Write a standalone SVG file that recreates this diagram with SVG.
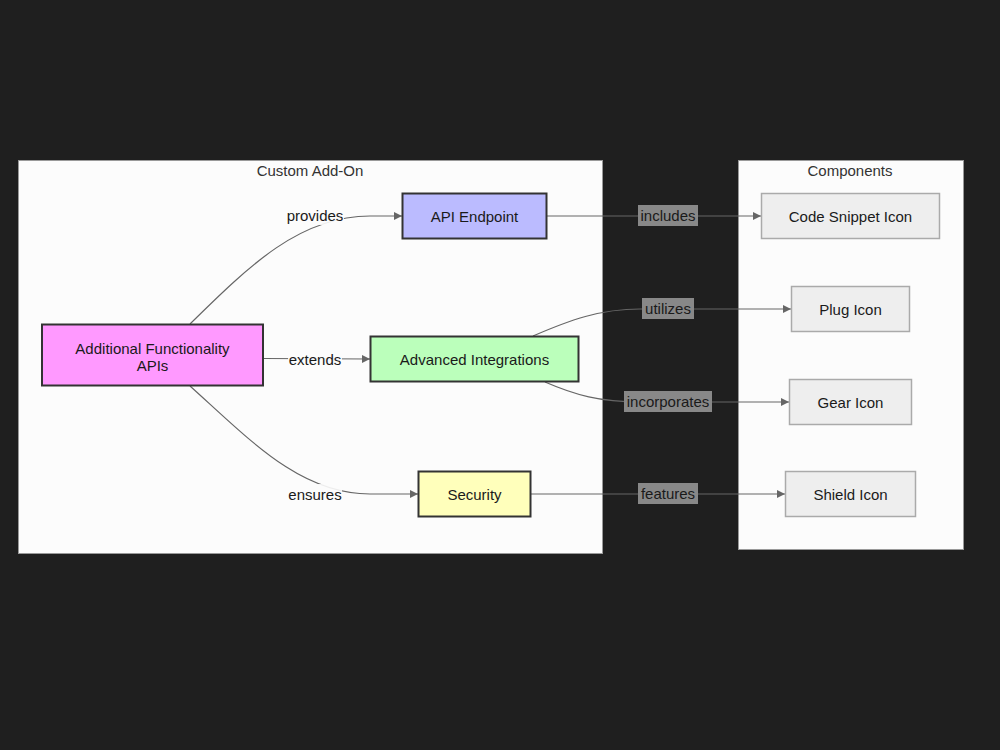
<svg xmlns="http://www.w3.org/2000/svg" width="1000" height="750" viewBox="0 0 1000 750">
<style>
text{font-family:"Liberation Sans",Arial,sans-serif;font-size:15px;fill:#1a1a1a;text-anchor:middle;dominant-baseline:central}
.cluster{fill:#fcfcfc;stroke:#999;stroke-width:1}
.ctitle{fill:#333}
.node{stroke:#333;stroke-width:2}
.comp{fill:#eeeeee;stroke:#aaaaaa;stroke-width:1.5}
.edge{fill:none;stroke:#666;stroke-width:1.2;marker-end:url(#arr)}
.lblIn{fill:#fcfcfc;opacity:0.9}
.lblOut{fill:#888888}
</style>
<defs>
<marker id="arr" viewBox="0 0 10 10" refX="10" refY="5" markerWidth="8" markerHeight="8" markerUnits="userSpaceOnUse" orient="auto">
<path d="M0,0 L10,5 L0,10 z" fill="#666"/>
</marker>
</defs>
<rect width="1000" height="750" fill="#1f1f1f"/>
<g id="cluster-custom">
<rect class="cluster" x="18.5" y="160.5" width="584" height="393"/>
<text class="ctitle" x="310" y="170">Custom Add-On</text>
</g>
<g id="cluster-components">
<rect class="cluster" x="738.5" y="160.5" width="225" height="389"/>
<text class="ctitle" x="850" y="170">Components</text>
</g>
<g id="connectors">
<path class="edge" d="M190,324 C250,265 300,216 370,216 L402,216"/>
<path class="edge" d="M263,358.5 L370,359"/>
<path class="edge" d="M190,386 C250,440 300,494 370,494 L418,494"/>
<path class="edge" d="M547,216 L761,216"/>
<path class="edge" d="M533,336 C570,320 600,309 640,309 L791,309"/>
<path class="edge" d="M545,382 C575,395 600,402 640,402 L789,402"/>
<path class="edge" d="M531,494 L785,494"/>
<rect class="lblIn" x="286" y="205" width="58" height="20"/>
<text x="315" y="215">provides</text>
<rect class="lblIn" x="288" y="349" width="54" height="20"/>
<text x="315" y="359">extends</text>
<rect class="lblIn" x="288" y="484" width="54" height="20"/>
<text x="315" y="494">ensures</text>
<rect class="lblOut" x="638" y="205" width="60" height="21"/>
<text x="668" y="215.5">includes</text>
<rect class="lblOut" x="642" y="298" width="52" height="21"/>
<text x="668" y="308.5">utilizes</text>
<rect class="lblOut" x="624" y="391" width="88" height="21"/>
<text x="668" y="401.5">incorporates</text>
<rect class="lblOut" x="638" y="483" width="60" height="21"/>
<text x="668" y="493.5">features</text>
</g>
<g id="node-additional">
<rect class="node" x="42" y="324.5" width="221" height="61" fill="#ff99ff"/>
<text x="152.5" y="348">Additional Functionality</text>
<text x="152.5" y="365">APIs</text>
</g>
<g id="node-api">
<rect class="node" x="402.5" y="193.5" width="144" height="45" fill="#bbbbff"/>
<text x="474.5" y="216.5">API Endpoint</text>
</g>
<g id="node-advanced">
<rect class="node" x="370.5" y="336.5" width="208" height="45" fill="#bbffbb"/>
<text x="474.5" y="359.5">Advanced Integrations</text>
</g>
<g id="node-security">
<rect class="node" x="418.5" y="471.5" width="112" height="45" fill="#ffffbb"/>
<text x="474.5" y="494.5">Security</text>
</g>
<g id="node-code">
<rect class="comp" x="761.5" y="193.5" width="178" height="45"/>
<text x="850.5" y="216.5">Code Snippet Icon</text>
</g>
<g id="node-plug">
<rect class="comp" x="791.5" y="286.5" width="118" height="45"/>
<text x="850.5" y="309.5">Plug Icon</text>
</g>
<g id="node-gear">
<rect class="comp" x="789.5" y="379.5" width="122" height="45"/>
<text x="850.5" y="402.5">Gear Icon</text>
</g>
<g id="node-shield">
<rect class="comp" x="785.5" y="471.5" width="130" height="45"/>
<text x="850.5" y="494.5">Shield Icon</text>
</g>
</svg>
